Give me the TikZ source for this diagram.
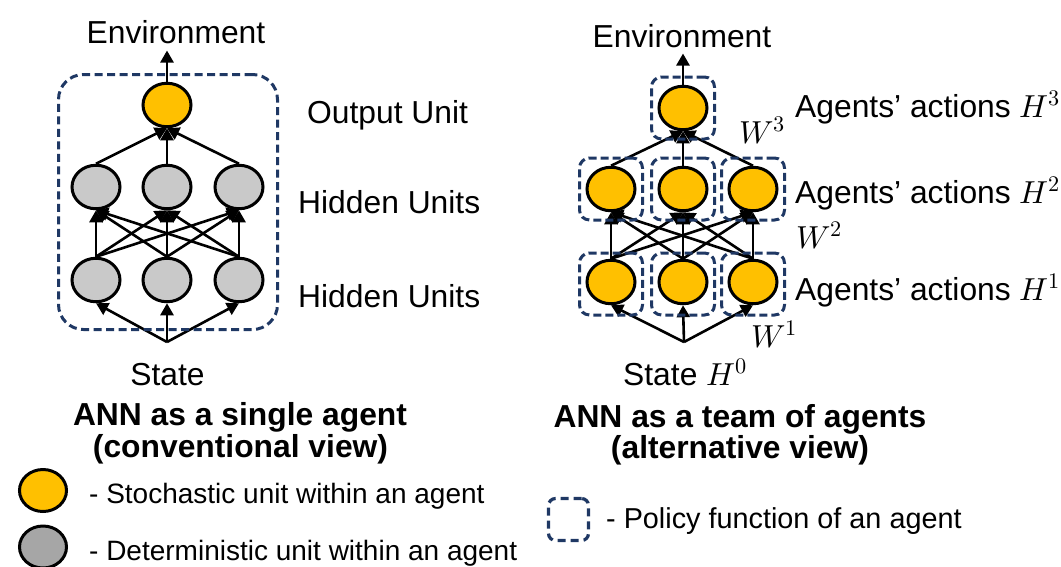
\documentclass[tikz,border=0pt]{standalone}
\usepackage{fontspec}
\setmainfont{Liberation Sans}
\usepackage{unicode-math}
\setmathfont{Latin Modern Math}
\usetikzlibrary{shapes.geometric,arrows.meta}

\definecolor{unitgold}{HTML}{FFC000}
\definecolor{unitgray}{HTML}{C9C9C9}
\definecolor{legendgray}{HTML}{A6A6A6}
\definecolor{agentnavy}{HTML}{1F3864}

\begin{document}
\begin{tikzpicture}[x=1pt,y=-1pt,
  unit/.style={ellipse,draw=black,line width=3pt,minimum width=48pt,minimum height=43.5pt,inner sep=0pt},
  stoch/.style={unit,fill=unitgold},
  determ/.style={unit,fill=unitgray},
  link/.style={line width=2.6pt,-{Triangle[length=12pt,width=13pt]}},
  agentbox/.style={draw=agentnavy,line width=3pt,dash pattern=on 8pt off 4pt,rounded corners=10pt,minimum width=63pt,minimum height=62pt,inner sep=0pt},
  lbl/.style={font=\fontsize{31.8}{38}\selectfont,anchor=base,inner sep=0pt},
  lblw/.style={lbl,anchor=base west},
  title/.style={font=\fontsize{31.8}{38}\selectfont\bfseries,anchor=base,inner sep=0pt},
  legtext/.style={font=\fontsize{28}{34}\selectfont,anchor=base west,inner sep=0pt}
]
\path[use as bounding box] (0,0) rectangle (1061,566);

% ---------- single agent network ----------
\node[stoch]  (lout) at (167,105) {};
\node[determ] (l2a) at (96,187) {};
\node[determ] (l2b) at (167,187) {};
\node[determ] (l2c) at (239,187) {};
\node[determ] (l1a) at (96,280) {};
\node[determ] (l1b) at (167,280) {};
\node[determ] (l1c) at (239,280) {};
\coordinate (lstate) at (167,342);

\foreach \lo in {l1a,l1b,l1c}
  \foreach \up in {l2a,l2b,l2c}
    \draw[link] (\lo.north) -- (\up.south);
\foreach \lo in {l2a,l2b,l2c}
  \draw[link] (\lo.north) -- (lout.south);
\foreach \up in {l1a,l1b,l1c}
  \draw[link] (lstate) -- (\up.south);

\node[draw=agentnavy,line width=3pt,dash pattern=on 8pt off 4.5pt,rounded corners=25pt,
      minimum width=219pt,minimum height=255pt,inner sep=0pt] (lagent) at (168,202) {};

\node[lbl] (lenv) at (176,43) {Environment};
\draw[link,shorten >=7pt] (lout.north) -- (lout.north |- lenv.south);

\node[lbl] (lstatetxt) at (167.5,385) {State};
\node[lblw] (lout-l) at (307,123) {Output Unit};
\node[lblw] (lhid2) at (298,213) {Hidden Units};
\node[lblw] (lhid1) at (298,307) {Hidden Units};
\node[title] (ltitle1) at (240,425) {ANN as a single agent};
\node[title] (ltitle2) at (240.5,457) {(conventional view)};

% ---------- team of agents network ----------
\node[stoch] (rtop) at (683,108) {};
\node[stoch] (r2a) at (611,189) {};
\node[stoch] (r2b) at (683,189) {};
\node[stoch] (r2c) at (753,189) {};
\node[stoch] (r1a) at (611,282) {};
\node[stoch] (r1b) at (683,282) {};
\node[stoch] (r1c) at (753,282) {};
\coordinate (rstate) at (684,342);

\foreach \lo in {r1a,r1b,r1c}
  \foreach \up in {r2a,r2b,r2c}
    \draw[link] (\lo.north) -- (\up.south);
\foreach \lo in {r2a,r2b,r2c}
  \draw[link] (\lo.north) -- (rtop.south);
\foreach \up in {r1a,r1b,r1c}
  \draw[link] (rstate) -- (\up.south);

\foreach \n in {rtop,r2a,r2b,r2c}
  \node[agentbox] (box-\n) at (\n) {};
\foreach \n in {r1a,r1b,r1c}
  \node[agentbox] (box-\n) at ([yshift=-2pt]\n) {};

\node[lbl] (renv) at (682,47) {Environment};
\draw[link,shorten >=6pt] (rtop.north) -- (rtop.north |- renv.south);

\node[lbl] (rstatetxt) at (685,385) {State $H^0$};
\node[lblw] (act3) at (795,117) {Agents’ actions $H^3$};
\node[lblw] (act2) at (795,203) {Agents’ actions $H^2$};
\node[lblw] (act1) at (795,300) {Agents’ actions $H^1$};
\node[lblw] (w3) at (739,143) {$W^3$};
\node[lblw] (w2) at (796,248) {$W^2$};
\node[lblw] (w1) at (751,347) {$W^1$};
\node[title] (rtitle1) at (740,427) {ANN as a team of agents};
\node[title] (rtitle2) at (740,458) {(alternative view)};

% ---------- legend ----------
\node[unit,fill=unitgold,minimum width=47pt,minimum height=42pt] (legstoch) at (43,490.5) {};
\node[legtext] (legstoch-t) at (89,503) {- Stochastic unit within an agent};
\node[unit,fill=legendgray,minimum width=47pt,minimum height=42pt] (legdet) at (43,547) {};
\node[legtext] (legdet-t) at (89,560) {- Deterministic unit within an agent};
\node[agentbox,line width=3.2pt,dash pattern=on 8pt off 5pt,rounded corners=7pt,
      minimum width=40pt,minimum height=42pt] (legpol) at (568.5,519.5) {};
\node[legtext,font=\fontsize{28.8}{34}\selectfont] (legpol-t) at (606,528) {- Policy function of an agent};
\end{tikzpicture}
\end{document}
